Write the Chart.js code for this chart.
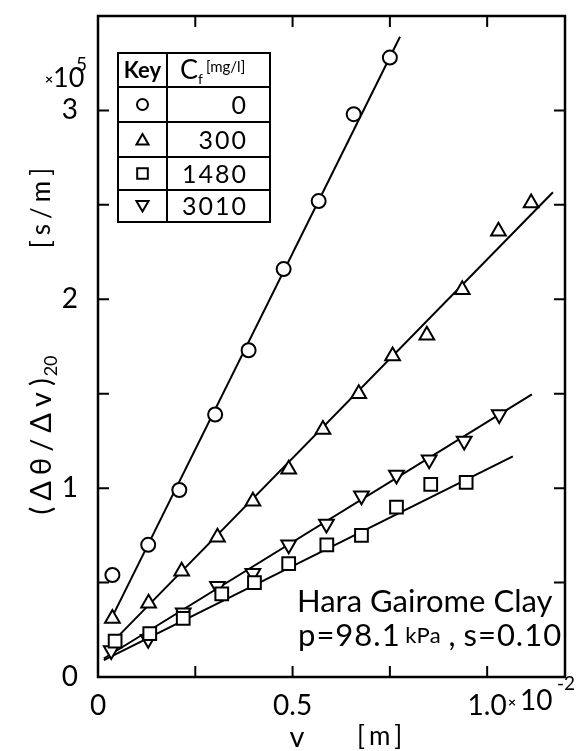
<!DOCTYPE html>
<html>
<head>
<meta charset="utf-8">
<script src="https://cdn.jsdelivr.net/npm/chart.js@4.4.0/dist/chart.umd.min.js"></script>
<style>
  html, body { margin: 0; padding: 0; background: #fff; }
  #wrap { width: 584px; height: 751px; }
</style>
</head>
<body>
<div id="wrap"><canvas id="c"></canvas></div>
<script>
// valores: v en x10^-2 m, (Δθ/Δv)20 en x10^5 s/m
const cfLabels = ['0', '300', '1480', '3010'];

const vC0 = [0.037, 0.129, 0.209, 0.301, 0.387, 0.477, 0.567, 0.657, 0.750];
const rC0 = [0.54, 0.70, 0.99, 1.39, 1.73, 2.16, 2.52, 2.98, 3.28];

const vC300 = [0.037, 0.130, 0.215, 0.307, 0.398, 0.490, 0.578, 0.670, 0.757, 0.845, 0.936, 1.029, 1.113];
const rC300 = [0.31, 0.39, 0.56, 0.74, 0.93, 1.10, 1.31, 1.50, 1.70, 1.81, 2.05, 2.36, 2.51];

const vC1480 = [0.044, 0.133, 0.219, 0.318, 0.402, 0.490, 0.588, 0.677, 0.767, 0.855, 0.946];
const rC1480 = [0.19, 0.23, 0.31, 0.44, 0.50, 0.60, 0.70, 0.75, 0.90, 1.02, 1.03];

const vC3010 = [0.034, 0.129, 0.219, 0.307, 0.398, 0.490, 0.587, 0.677, 0.767, 0.851, 0.941, 1.031];
const rC3010 = [0.14, 0.20, 0.34, 0.48, 0.55, 0.70, 0.81, 0.96, 1.07, 1.15, 1.25, 1.39];

// rectas ajustadas (extremos)
const fitV = [[0.041, 0.776], [0.049, 1.169], [0.015, 1.066], [0.015, 1.115]];
const fitR = [[0.337, 3.39], [0.21, 2.567], [0.089, 1.168], [0.098, 1.496]];

const xTickLabels = { 0: '0', 0.5: '0.5', 1: '1.0' };
const yTickLabels = { 0: '0', 1: '1', 2: '2', 3: '3' };

const FONT = 'Lato, "DejaVu Sans", sans-serif';
const pts = (xs, ys) => xs.map((x, i) => ({ x, y: ys[i] }));

const markers = [
  { style: 'circle', radius: 7, rotation: 0 },
  { style: 'triangle', radius: 8.5, rotation: 0 },
  { style: 'rect', radius: 9, rotation: 0 },
  { style: 'triangle', radius: 8.5, rotation: 180 }
];
const seriesV = [vC0, vC300, vC1480, vC3010];
const seriesR = [rC0, rC300, rC1480, rC3010];

const datasets = [];
seriesV.forEach((xs, i) => {
  datasets.push({
    type: 'scatter',
    label: cfLabels[i],
    data: pts(xs, seriesR[i]),
    pointStyle: markers[i].style,
    pointRadius: markers[i].radius,
    pointRotation: markers[i].rotation,
    pointBorderWidth: 2,
    pointBorderColor: '#000',
    pointBackgroundColor: '#fff',
    order: 0
  });
});
fitV.forEach((xs, i) => {
  datasets.push({
    type: 'line',
    data: pts(xs, fitR[i]),
    borderColor: '#000',
    borderWidth: 2,
    pointRadius: 0,
    fill: false,
    order: 1
  });
});

// texto con espaciado entre letras
function spaced(ctx, text, x, y, gap) {
  let px = x;
  for (const ch of text) {
    ctx.fillText(ch, px, y);
    px += ctx.measureText(ch).width + gap;
  }
  return px - gap - x;
}
function spacedWidth(ctx, text, gap) {
  let w = 0;
  for (const ch of text) w += ctx.measureText(ch).width + gap;
  return w - gap;
}

// marco con marcas hacia dentro
const framePlugin = {
  id: 'frame',
  afterDatasetsDraw(chart) {
    const { ctx, chartArea: a, scales: { x, y } } = chart;
    ctx.save();
    ctx.strokeStyle = '#000';
    ctx.lineWidth = 2.5;
    ctx.strokeRect(a.left, a.top, a.right - a.left, a.bottom - a.top);
    ctx.lineWidth = 2;
    ctx.beginPath();
    for (let v = 0.25; v < 1.2; v += 0.25) {
      const px = x.getPixelForValue(v);
      ctx.moveTo(px, a.bottom); ctx.lineTo(px, a.bottom - 11);
      ctx.moveTo(px, a.top); ctx.lineTo(px, a.top + 11);
    }
    for (let v = 0.5; v < 3.5; v += 0.5) {
      const py = y.getPixelForValue(v);
      ctx.moveTo(a.left, py); ctx.lineTo(a.left + 11, py);
      ctx.moveTo(a.right, py); ctx.lineTo(a.right - 11, py);
    }
    ctx.stroke();
    ctx.restore();
  }
};

// textos, tabla de claves y anotación
const textPlugin = {
  id: 'texts',
  afterDraw(chart) {
    const ctx = chart.ctx;
    ctx.save();
    ctx.fillStyle = '#000';
    ctx.strokeStyle = '#000';
    ctx.textBaseline = 'middle';

    // x10^5
    ctx.textAlign = 'left';
    ctx.font = `bold 14px ${FONT}`;
    ctx.fillText('×', 45, 79);
    ctx.font = `27px ${FONT}`;
    ctx.fillText('10', 53, 78);
    ctx.font = `19px ${FONT}`;
    ctx.fillText('5', 76, 65);

    // x10^-2
    ctx.font = `bold 14px ${FONT}`;
    ctx.fillText('×', 508, 702);
    ctx.font = `28px ${FONT}`;
    ctx.fillText('10', 520, 701);
    ctx.font = `19px ${FONT}`;
    ctx.fillText('-2', 557, 684);

    // título eje x
    ctx.textAlign = 'center';
    ctx.font = `29px ${FONT}`;
    ctx.fillText('v', 297, 738);
    ctx.textAlign = 'left';
    ctx.font = `26px ${FONT}`;
    spaced(ctx, '[m]', 357, 737, 4);

    // título eje y (rotado)
    ctx.save();
    ctx.translate(42, 435);
    ctx.rotate(-Math.PI / 2);
    ctx.textAlign = 'left';
    ctx.font = `29px ${FONT}`;
    const main = '(Δθ/Δv)';
    const w1 = spacedWidth(ctx, main, 6);
    ctx.font = `18px ${FONT}`;
    const w2 = ctx.measureText('20').width;
    const start = -(w1 + w2 + 2) / 2;
    ctx.font = `29px ${FONT}`;
    spaced(ctx, main, start, 0, 6);
    ctx.font = `18px ${FONT}`;
    ctx.fillText('20', start + w1 + 2, 9);
    ctx.restore();

    ctx.save();
    ctx.translate(42, 208);
    ctx.rotate(-Math.PI / 2);
    ctx.textAlign = 'left';
    ctx.font = `26px ${FONT}`;
    const ws = spacedWidth(ctx, '[s/m]', 5);
    spaced(ctx, '[s/m]', -ws / 2, 0, 5);
    ctx.restore();

    // anotación
    ctx.textAlign = 'left';
    ctx.font = `31px ${FONT}`;
    ctx.fillText('Hara Gairome Clay', 297, 602);
    let px = 298;
    const parts = [['p=98.1', 31, 1], [' kPa', 22, 0], [' , ', 31, 0], ['s=0.10', 31, 1]];
    parts.forEach(([t, s, g]) => {
      ctx.font = `${s}px ${FONT}`;
      px += spaced(ctx, t, px, 636, g) + (g ? 0 : 0);
    });

    // tabla de claves
    const L = 118, M = 167, R = 270;
    const rows = [53, 87, 122, 157, 190, 222];
    ctx.lineWidth = 2;
    ctx.strokeRect(L, rows[0], R - L, rows[5] - rows[0]);
    ctx.beginPath();
    ctx.moveTo(M, rows[0]); ctx.lineTo(M, rows[5]);
    for (let i = 1; i < 5; i++) { ctx.moveTo(L, rows[i]); ctx.lineTo(R, rows[i]); }
    ctx.stroke();

    ctx.textAlign = 'center';
    ctx.font = `bold 22px ${FONT}`;
    ctx.fillText('Key', (L + M) / 2, 71);
    ctx.textAlign = 'left';
    ctx.font = `27px ${FONT}`;
    ctx.fillText('C', 180, 70);
    ctx.font = `14px ${FONT}`;
    ctx.fillText('f', 198, 79);
    ctx.font = `15px ${FONT}`;
    ctx.fillText('[mg/l]', 206, 67);

    ctx.textAlign = 'left';
    ctx.font = `25px ${FONT}`;
    const legendSize = [5.5, 7, 7.5, 7];
    cfLabels.forEach((lab, i) => {
      const cy = (rows[i + 1] + rows[i + 2]) / 2;
      const w = spacedWidth(ctx, lab, 2);
      spaced(ctx, lab, 246 - w, cy + 1, 2);
      ctx.save();
      ctx.lineWidth = 2;
      ctx.fillStyle = '#fff';
      Chart.helpers.drawPoint(ctx, {
        pointStyle: markers[i].style,
        radius: legendSize[i],
        rotation: markers[i].rotation,
        borderWidth: 2
      }, (L + M) / 2, cy + (markers[i].style === 'triangle' ? (markers[i].rotation ? -1.5 : 1.5) : 0));
      ctx.restore();
    });
    ctx.restore();
  }
};

new Chart(document.getElementById('c'), {
  data: { datasets },
  options: {
    responsive: true,
    maintainAspectRatio: false,
    animation: false,
    layout: { padding: { left: 0, right: 19, top: 16, bottom: 0 } },
    plugins: { legend: { display: false }, tooltip: { enabled: false } },
    scales: {
      x: {
        type: 'linear',
        min: 0, max: 1.2,
        grid: { display: false, drawTicks: false },
        border: { display: false },
        afterFit: s => { s.height = 74; s.paddingLeft = 0; s.paddingRight = 0; },
        ticks: {
          stepSize: 0.25,
          includeBounds: false,
          maxRotation: 0,
          autoSkip: false,
          padding: 12,
          color: '#000',
          font: { family: FONT, size: 28 },
          callback: v => xTickLabels[Math.round(v * 100) / 100] ?? ''
        }
      },
      y: {
        type: 'linear',
        min: 0, max: 3.5,
        grid: { display: false, drawTicks: false },
        border: { display: false },
        afterFit: s => { s.width = 98; s.paddingTop = 0; s.paddingBottom = 0; },
        ticks: {
          stepSize: 0.5,
          autoSkip: false,
          padding: 20,
          color: '#000',
          font: { family: FONT, size: 28 },
          callback: v => yTickLabels[Math.round(v * 100) / 100] ?? ''
        }
      }
    }
  },
  plugins: [framePlugin, textPlugin]
});
</script>
</body>
</html>
